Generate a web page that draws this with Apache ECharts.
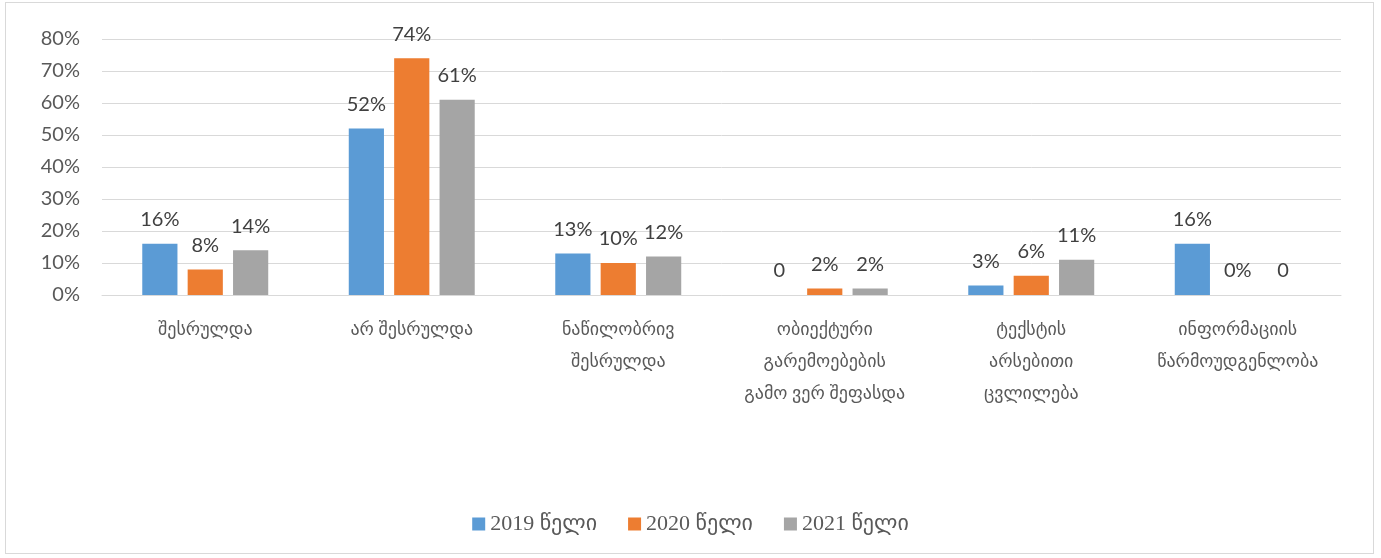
<!DOCTYPE html>
<html><head><meta charset="utf-8">
<script src="https://cdn.jsdelivr.net/npm/echarts@6/dist/echarts.min.js"></script>
<style>html,body{margin:0;padding:0;background:#fff}#c{position:absolute;left:0;top:0;width:1381px;height:558px}#b{position:absolute;left:5px;top:2px;width:1369px;height:552px;border:1px solid #d9d9d9;box-sizing:border-box}</style>
</head><body><div id="b"></div><div id="c"></div>
<script>
const categories = ['შესრულდა','არ შესრულდა','ნაწილობრივ\nშესრულდა','ობიექტური\nგარემოებების\nგამო ვერ შეფასდა','ტექსტის\nარსებითი\nცვლილება','ინფორმაციის\nწარმოუდგენლობა'];
const seriesNames = ['2019 წელი','2020 წელი','2021 წელი'];
const v2019 = [16, 52, 13, 0, 3, 16];
const v2020 = [8, 74, 10, 2, 6, 0];
const v2021 = [14, 61, 12, 2, 11, 0];
const l2019 = ['16%','52%','13%','0','3%','16%'];
const l2020 = ['8%','74%','10%','2%','6%','0%'];
const l2021 = ['14%','61%','12%','2%','11%','0'];
const yTicks = [0,10,20,30,40,50,60,70,80];
const colors = ['#5B9BD5','#ED7D31','#A5A5A5'];
const sans = "Lato, 'DejaVu Sans', sans-serif";
const vals = [v2019, v2020, v2021];
const labs = [l2019, l2020, l2021];
const chart = echarts.init(document.getElementById('c'));
chart.setOption({
  animation:false,
  grid:{left:102,right:40,top:39,bottom:263,containLabel:false},
  legend:{bottom:18,left:'center',itemWidth:13,itemHeight:13,itemGap:31,icon:'rect',
    textStyle:{fontFamily:"'Liberation Serif', 'DejaVu Sans', serif",fontSize:22,color:'#595959'},data:seriesNames},
  xAxis:{type:'category',data:categories,axisTick:{show:false},
    axisLine:{lineStyle:{color:'#d9d9d9',width:1}},
    axisLabel:{interval:0,margin:18,color:'#595959',fontFamily:sans,fontSize:18,lineHeight:32}},
  yAxis:{type:'value',min:yTicks[0],max:yTicks[yTicks.length-1],interval:10,
    axisLabel:{formatter:'{value}%',color:'#595959',fontFamily:sans,fontSize:20,margin:22},
    splitLine:{lineStyle:{color:'#d9d9d9',width:1}},axisLine:{show:false},axisTick:{show:false}},
  series:seriesNames.map((n,i)=>({name:n,type:'bar',data:vals[i],barGap:'29%',barCategoryGap:'39%',
    itemStyle:{color:colors[i]},
    label:{show:true,position:'top',distance:14,color:'#404040',fontFamily:sans,fontSize:20,
      formatter:p=>labs[i][p.dataIndex]}}))
});
</script></body></html>
